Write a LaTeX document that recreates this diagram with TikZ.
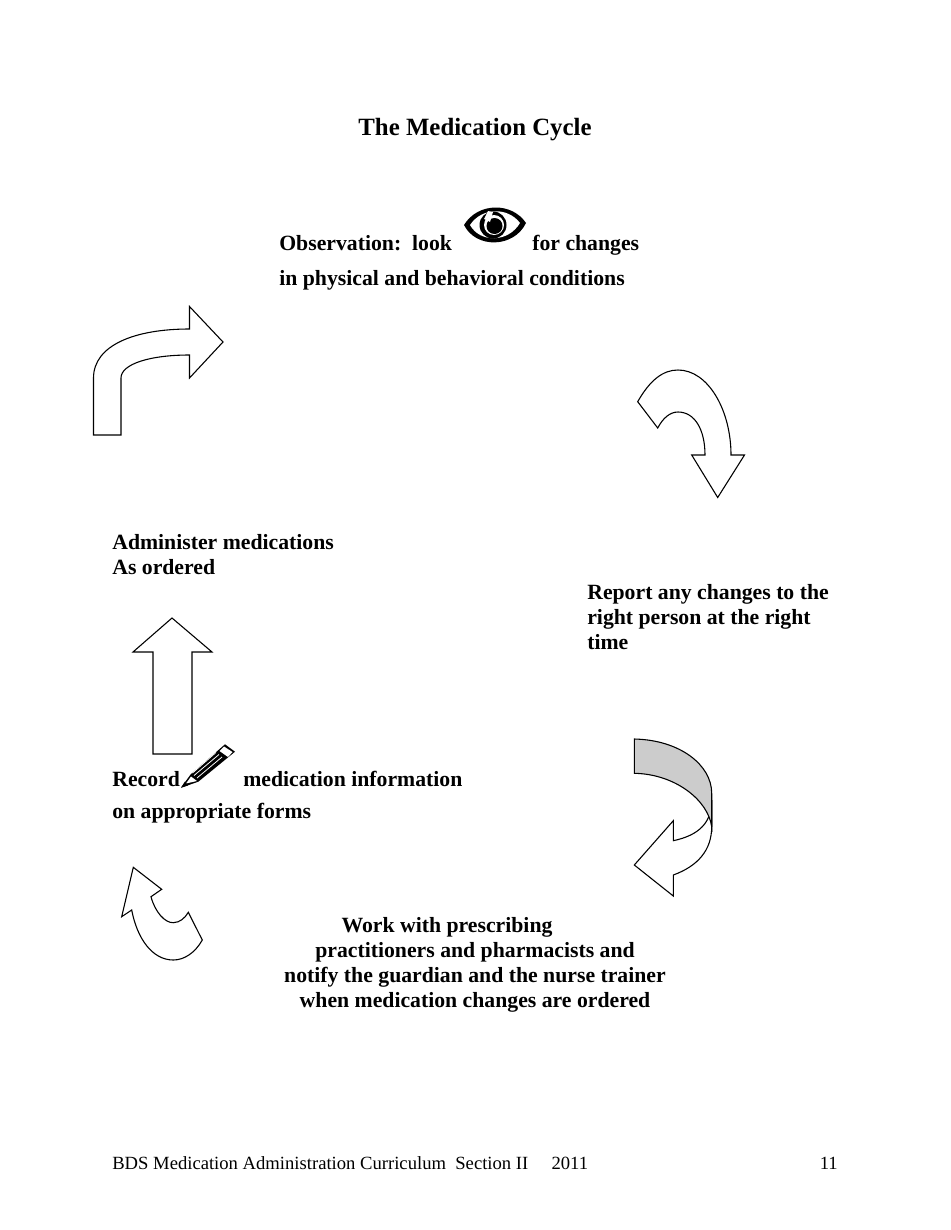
\documentclass[tikz,border=0pt]{standalone}
\usepackage{fontspec}
\setmainfont{Liberation Serif}
\usetikzlibrary{positioning}
\definecolor{foldcolor}{RGB}{204,204,204}
\tikzset{
  headtext/.style={inner sep=0pt, font=\fontsize{16}{18}\selectfont\bfseries},
  steptext/.style={inner sep=0pt, font=\fontsize{14}{16.1}\selectfont\bfseries},
  foottext/.style={inner sep=0pt, font=\fontsize{12}{14}\selectfont},
  cyclearrow/.style={draw=black, line width=0.7pt, line join=miter, fill=white}
}
\begin{document}
\begin{tikzpicture}[x=0.6442pt, y=-0.6442pt]
    \useasboundingbox (0,0) rectangle (950,1230);
    % --- title ---
    \node[headtext, anchor=base] (title) at (475,135) {The Medication Cycle};
    % --- observation ---
    \node[steptext, anchor=base west] (look) at (279,250) {Observation:\ \ look};
    \node[steptext, anchor=base west] (changes) at (532,250) {for changes};
    \node[steptext, anchor=base west] (conditions) at (279,285) {in physical and behavioral conditions};
    % --- eye ---
    \fill[black] (464,225) .. controls (478,202) and (512,202) .. (526,223)
      .. controls (514,248) and (476,249) .. (464,225) -- cycle;
    \fill[white] (470,225) .. controls (482,207) and (508,207) .. (520,223)
      .. controls (508,243) and (480,243) .. (470,225) -- cycle;
    \fill[black] (493,225) circle (13.5);
    \fill[white] (494,225) circle (10);
    \fill[black] (494.5,226) circle (8);
    \fill[white] (488,211) -- (484,219) -- (490,222) -- (493,212) -- cycle;
    % --- arrow: observation to report ---
    \draw[cyclearrow] (637.7,401.7) .. controls (650,380) and (663,370) .. (678,370)
      .. controls (708,370) and (731,410) .. (731,455) -- (744.5,455) -- (717.7,497.5)
      -- (691.7,455) -- (705,455) .. controls (705,430) and (695,412) .. (678,412)
      .. controls (670,412) and (663,418) .. (657.7,428) -- cycle;
    % --- report ---
    \node[steptext, anchor=base west] (report) at (587,599) {Report any changes to the};
    \node[steptext, anchor=base west] (person) at (587,624) {right person at the right};
    \node[steptext, anchor=base west] (reporttime) at (587,649) {time};
    % --- arrow: report to prescribers, folded ---
    \draw[cyclearrow] (711.7,800) .. controls (711.7,822) and (700,835) .. (673.3,840.7)
      -- (673.3,820.7) -- (634.3,865) -- (673.3,896) -- (673.3,875)
      .. controls (698,866) and (711.7,850) .. (711.7,826.7) -- cycle;
    \draw[cyclearrow, fill=foldcolor] (634.3,739) .. controls (680,740) and (711.7,765) .. (711.7,793.3)
      -- (711.7,826.7) .. controls (708,800) and (675,774) .. (634.3,773.3) -- cycle;
    % --- prescribers ---
    \node[steptext, anchor=base] (work) at (447,932) {Work with prescribing};
    \node[steptext, anchor=base] (pharm) at (475,957) {practitioners and pharmacists and};
    \node[steptext, anchor=base] (notify) at (475,982) {notify the guardian and the nurse trainer};
    \node[steptext, anchor=base] (ordered) at (475,1007) {when medication changes are ordered};
    % --- arrow: prescribers to record ---
    \draw[cyclearrow] (133.3,867.3) -- (161.7,889.3) -- (151,896.7)
      .. controls (155,912) and (165,923) .. (173.3,922.7)
      .. controls (180,922.5) and (185,918) .. (188.3,912.3) -- (202.3,940)
      .. controls (195,953) and (184,960) .. (173.3,960)
      .. controls (152,960) and (137,938) .. (131.7,910) -- (121.7,916.7) -- cycle;
    % --- record ---
    \node[steptext, anchor=base west] (record) at (112,786) {Record};
    \node[steptext, anchor=base west] (medinfo) at (243,786) {medication information};
    \node[steptext, anchor=base west] (forms) at (112,818) {on appropriate forms};
    % --- pencil ---
    \fill[black] (181,787.7) -- (190.7,774.3) -- (225,744.3) -- (235,751.7) -- (198.3,781.7) -- cycle;
    \fill[white] (224,746.5) -- (232.5,752) -- (228,757) -- (219.5,751) -- cycle;
    \fill[white] (186,783.5) -- (191,776.5) -- (197,781) -- cycle;
    \fill[black] (181,787.7) -- (185,781.5) -- (188,785.5) -- cycle;
    \draw[white, line width=0.5pt] (194,775.5) -- (219,754.5) (197,778) -- (222,757) (192.5,773) -- (216,752.5);
    % --- arrow: record to administer ---
    \draw[cyclearrow] (172,618) -- (212,652) -- (192,652) -- (192,754) -- (153,754)
      -- (153,652) -- (133,652) -- cycle;
    % --- administer ---
    \node[steptext, anchor=base west] (administer) at (112,549) {Administer medications};
    \node[steptext, anchor=base west] (asordered) at (112,574) {As ordered};
    % --- arrow: administer to observation ---
    \draw[cyclearrow] (93.5,435) -- (121,435) -- (121,378)
      .. controls (121,364) and (150,355) .. (189.5,355) -- (189.5,378) -- (223,342)
      -- (189.5,306.5) -- (189.5,329) .. controls (135,329) and (93.5,345) .. (93.5,378) -- cycle;
    % --- footer ---
    \node[foottext, anchor=base west] (footer) at (112,1169)
      {BDS Medication Administration Curriculum\ \ Section II\ \ \ \ \ 2011};
    \node[foottext, anchor=base east] (pagenum) at (838,1169) {11};
\end{tikzpicture}
\end{document}
